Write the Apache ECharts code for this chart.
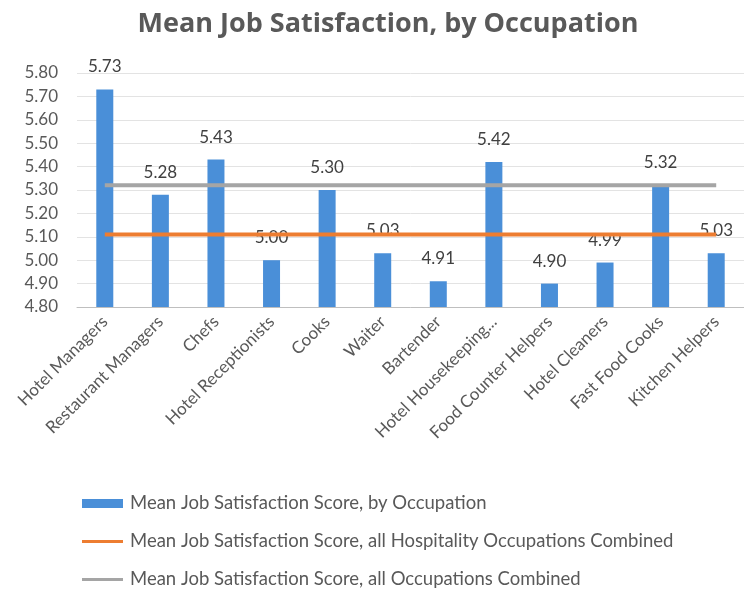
<!DOCTYPE html>
<html><head><meta charset="utf-8">
<script src="https://cdn.jsdelivr.net/npm/echarts@6/dist/echarts.min.js"></script>
<style>html,body{margin:0;padding:0;background:#fff}#c{width:744px;height:591px}</style>
</head><body><div id="c"></div>
<script>
const categories = ["Hotel Managers","Restaurant Managers","Chefs","Hotel Receptionists","Cooks","Waiter","Bartender","Hotel Housekeeping...","Food Counter Helpers","Hotel Cleaners","Fast Food Cooks","Kitchen Helpers"];
const occupationScores = [5.73,5.28,5.43,5.00,5.30,5.03,4.91,5.42,4.90,4.99,5.32,5.03];
const hospitalityMean = 5.11;
const allOccupationsMean = 5.32;
const seriesNames = ["Mean Job Satisfaction Score, by Occupation","Mean Job Satisfaction Score, all Hospitality Occupations Combined","Mean Job Satisfaction Score, all Occupations Combined"];
const yMin = 4.8, yMax = 5.8, yStep = 0.1;

const chart = echarts.init(document.getElementById('c'));
const FONT = 'Lato';
const lineIcon = 'path://M0,0L0.01,0L0,0.01Z M0,3H41V6H0Z M41,9L40.99,9L41,8.99Z';
chart.setOption({
  animation: false,
  title: {
    text: 'Mean Job Satisfaction, by Occupation',
    left: 383, top: 6, textAlign: 'center',
    textStyle: {fontFamily: 'Open Sans', fontWeight: 'bold', fontSize: 27, color: '#595959'}
  },
  grid: {left: 77, top: 73, width: 674, bottom: 284},
  xAxis: {
    type: 'category', data: categories,
    axisTick: {show: false},
    axisLine: {lineStyle: {color: '#bfbfbf'}},
    axisLabel: {rotate: 45, interval: 0, fontFamily: FONT, fontSize: 17, color: '#595959', margin: 12}
  },
  yAxis: {
    type: 'value', min: yMin, max: yMax, interval: yStep,
    axisLine: {show: false}, axisTick: {show: false},
    splitLine: {lineStyle: {color: '#e3e3e3'}},
    axisLabel: {fontFamily: FONT, fontSize: 17, color: '#595959', margin: 19, formatter: v => v.toFixed(2)}
  },
  legend: {
    orient: 'vertical', left: 82, top: 494, height: 97, padding: 0, itemGap: 19,
    itemWidth: 41, itemHeight: 9,
    textStyle: {fontFamily: FONT, fontSize: 18.5, color: '#595959', padding: [0,0,0,2]},
    data: [{name: seriesNames[0], icon: 'rect'}, {name: seriesNames[1], icon: lineIcon}, {name: seriesNames[2], icon: lineIcon}]
  },
  series: [
    {
      name: seriesNames[0], type: 'bar', data: occupationScores, barWidth: 17,
      itemStyle: {color: '#4a8fd8'},
      label: {show: true, position: 'top', distance: 14, fontFamily: FONT, fontSize: 17, color: '#404040', formatter: p => p.value.toFixed(2)},
      z: 2
    },
    {
      name: seriesNames[1], type: 'line', data: categories.map(() => hospitalityMean),
      symbol: 'none', lineStyle: {color: '#ed7d31', width: 4}, itemStyle: {color: '#ed7d31'}, z: 3
    },
    {
      name: seriesNames[2], type: 'line', data: categories.map(() => allOccupationsMean),
      symbol: 'none', lineStyle: {color: '#a5a5a5', width: 4}, itemStyle: {color: '#a5a5a5'}, z: 3
    }
  ]
});
</script></body></html>
